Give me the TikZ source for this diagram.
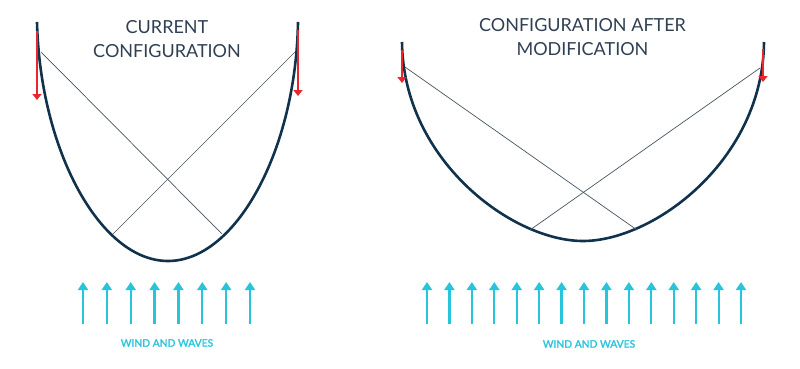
\documentclass[tikz,border=0pt]{standalone}
\usepackage{fontspec}
\setmainfont{Lato}
\newfontfamily\labelfont{Lato}[FakeBold=2]
\usetikzlibrary{arrows.meta}
\definecolor{netblue}{RGB}{16,50,76}
\definecolor{ropegray}{RGB}{70,84,98}
\definecolor{pullred}{RGB}{232,38,44}
\definecolor{windcyan}{RGB}{40,196,220}
\definecolor{titlegray}{RGB}{48,64,82}
\tikzset{
  net/.style={draw=netblue, line width=2.6pt},
  rope/.style={draw=ropegray, line width=0.7pt},
  pull/.style={draw=pullred, line width=2.4pt, -{Triangle[width=9pt,length=6pt]}},
  wind/.style={draw=windcyan, line width=2.2pt, -{Triangle[width=10pt,length=8pt]}},
  heading/.style={anchor=north, inner sep=0pt, align=center, text=titlegray,
    font=\fontsize{18}{24.5}\selectfont},
  windlabel/.style={anchor=north, inner sep=0pt, text=windcyan,
    font=\labelfont\fontsize{10.3}{12}\selectfont}
}
\begin{document}
\begin{tikzpicture}[x=1pt, y=-1pt]
  \useasboundingbox (0,0) rectangle (800,369);
  % Current configuration
  \node[heading] (curtitle) at (167,20) {CURRENT\\CONFIGURATION};
  \draw[net] (37,22) .. controls (40,150) and (100,261) .. (168,261)
             .. controls (236,261) and (296,150) .. (298,22);
  \coordinate (cl) at (41,52);   \coordinate (cr) at (295,52);
  \coordinate (cbl) at (113,234); \coordinate (cbr) at (222,234);
  \draw[rope] (cl) -- (cbr);
  \draw[rope] (cr) -- (cbl);
  \coordinate (cpl) at (37,31);  \coordinate (cpl2) at (37,100);
  \coordinate (cpr) at (298,30); \coordinate (cpr2) at (298,96);
  \draw[pull] (cpl) -- (cpl2);
  \draw[pull] (cpr) -- (cpr2);
  % Wind and waves, left
  \foreach \i in {0,...,7} {
    \coordinate (lw\i) at (83+23.86*\i,324);
    \coordinate (lwt\i) at (83+23.86*\i,282);
    \draw[wind] (lw\i) -- (lwt\i);
  }
  \node[windlabel] (lwind) at (167,339) {WIND AND WAVES};

  % Configuration after modification
  \node[heading] (modtitle) at (582.5,18) {CONFIGURATION AFTER\\MODIFICATION};
  \draw[net] (402,42) .. controls (403,160) and (512,241) .. (583,241)
             .. controls (654,241) and (763,160) .. (764,42);
  \coordinate (ml) at (405,67);   \coordinate (mr) at (760,68);
  \coordinate (mbl) at (530,230); \coordinate (mbr) at (637,230);
  \draw[rope] (ml) -- (mbr);
  \draw[rope] (mr) -- (mbl);
  \coordinate (mpl) at (402,50); \coordinate (mpl2) at (402,83);
  \coordinate (mpr) at (763,49); \coordinate (mpr2) at (763,82);
  \draw[pull] (mpl) -- (mpl2);
  \draw[pull] (mpr) -- (mpr2);
  % Wind and waves, right
  \foreach \i in {0,...,14} {
    \coordinate (rw\i) at (427+22.43*\i,324);
    \coordinate (rwt\i) at (427+22.43*\i,282);
    \draw[wind] (rw\i) -- (rwt\i);
  }
  \node[windlabel] (rwind) at (589,340) {WIND AND WAVES};
\end{tikzpicture}
\end{document}
